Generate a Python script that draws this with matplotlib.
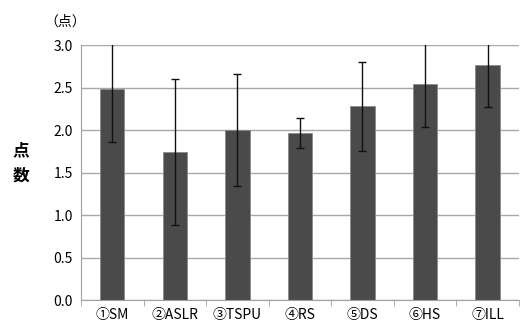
import numpy as np
import matplotlib.pyplot as plt

plt.rcParams['font.family'] = ['Noto Sans CJK JP', 'DejaVu Sans']

labels = ['①SM', '②ASLR', '③TSPU', '④RS', '⑤DS', '⑥HS', '⑦ILL']
means = [2.48, 1.74, 2.00, 1.965, 2.28, 2.54, 2.77]
sds = [0.62, 0.855, 0.655, 0.18, 0.525, 0.50, 0.50]

fig = plt.figure(figsize=(5.2, 3.29), dpi=100)
ax = fig.add_axes([0.1558, 0.0881, 0.842, 0.775])

x = np.arange(len(labels))
ax.bar(x, means, width=0.39, color='#4a4a4a', edgecolor='#8a8a8a', linewidth=0.6, zorder=2)
ax.errorbar(x, means, yerr=sds, fmt='none', ecolor='#111111', elinewidth=1.0,
            capsize=3, capthick=1.0, zorder=3)

ax.set_xlim(-0.5, len(labels) - 0.5)
ax.set_ylim(0, 3.0)
ax.set_yticks(np.arange(0, 3.01, 0.5))
ax.set_yticklabels([f'{v:.1f}' for v in np.arange(0, 3.01, 0.5)], fontsize=10)
ax.yaxis.grid(True, color='#a8a8a8', linewidth=1.0, zorder=0)
ax.set_axisbelow(True)

ax.set_xticks(x)
ax.set_xticklabels(labels, fontsize=10)
ax.set_xticks(np.arange(-0.5, len(labels)), minor=True)
ax.tick_params(axis='x', which='major', length=0, pad=6)
ax.tick_params(axis='x', which='minor', length=4, color='#a0a0a0', direction='out')
ax.tick_params(axis='y', length=0, pad=6)

for s in ['top', 'right']:
    ax.spines[s].set_visible(False)
for s in ['left', 'bottom']:
    ax.spines[s].set_color('#a0a0a0')

fig.text(0.040, 0.505, '点\n数', fontsize=12, fontweight='bold', ha='center', va='center',
         linespacing=1.5)
fig.text(0.085, 0.933, '（点）', fontsize=10, ha='left', va='center')

fig.savefig('out.png', dpi=100)
